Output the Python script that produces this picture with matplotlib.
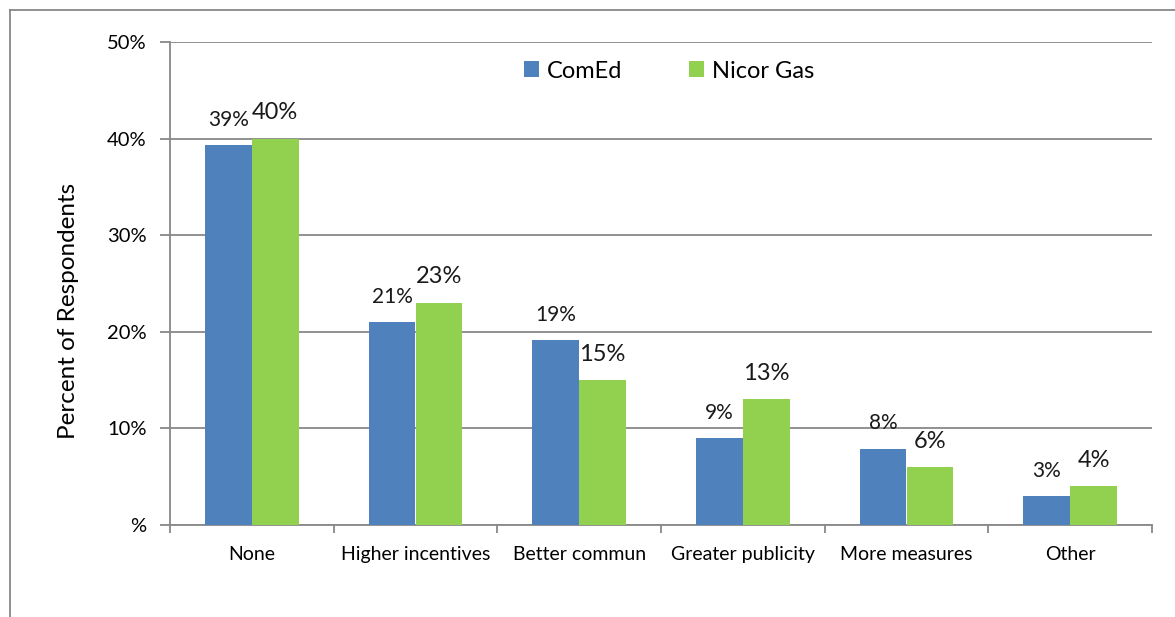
import numpy as np
import matplotlib.pyplot as plt
from matplotlib.lines import Line2D
from matplotlib.ticker import FixedLocator

plt.rcParams['font.family'] = ['Lato', 'DejaVu Sans']

categories = ['None', 'Higher incentives', 'Better commun', 'Greater publicity',
              'More measures', 'Other']
comed = [39.3, 21.0, 19.1, 9.0, 7.9, 3.0]
nicor = [40.0, 23.0, 15.0, 13.0, 6.0, 4.0]
series_names = ['ComEd', 'Nicor Gas']
ytick_vals = [0, 10, 20, 30, 40, 50]
ytick_labels = ['%', '10%', '20%', '30%', '40%', '50%']

blue = '#4F81BD'
green = '#92D050'
gray = '#888888'

fig = plt.figure(figsize=(11.75, 6.17), dpi=100)
ax = fig.add_axes([170 / 1175, 92 / 617, 982 / 1175, 483 / 617])

x = np.arange(len(categories))
w = 0.287
b1 = ax.bar(x - w / 2, comed, w, color=blue, label=series_names[0], zorder=3)
b2 = ax.bar(x + w / 2, nicor, w, color=green, label=series_names[1], zorder=3)

# value labels above each bar
for rect, v in zip(b1, comed):
    ax.annotate('%.0f%%' % v, (rect.get_x() + rect.get_width() / 2, v),
                xytext=(0, 14), textcoords='offset points',
                ha='center', va='baseline', fontsize=15, color='#1a1a1a')
for rect, v in zip(b2, nicor):
    ax.annotate('%.0f%%' % v, (rect.get_x() + rect.get_width() / 2, v),
                xytext=(0, 14), textcoords='offset points',
                ha='center', va='baseline', fontsize=17, color='#1a1a1a')

ax.set_xlim(-0.5, len(categories) - 0.5)
ax.set_ylim(0, 50)
ax.set_yticks(ytick_vals)
ax.set_yticklabels(ytick_labels, fontsize=14.5)
ax.set_xticks(x)
ax.set_xticklabels(categories, fontsize=14)
ax.xaxis.set_minor_locator(FixedLocator(np.arange(len(categories) + 1) - 0.5))
ax.tick_params(axis='x', which='major', length=0, pad=15)
ax.tick_params(axis='x', which='minor', length=6, color=gray, width=1.3)
ax.tick_params(axis='y', length=7, color=gray, width=1.3, pad=10)

ax.yaxis.grid(True, color=gray, linewidth=1.3, zorder=0)
for s in ['top', 'right']:
    ax.spines[s].set_visible(False)
for s in ['left', 'bottom']:
    ax.spines[s].set_color(gray)
    ax.spines[s].set_linewidth(1.3)

ax.set_ylabel('Percent of Respondents', fontsize=17.5)
ax.yaxis.set_label_coords(-0.093, 0.443)

leg = ax.legend(loc='center', bbox_to_anchor=(669 / 1175, 1 - 71 / 617),
                bbox_transform=fig.transFigure, ncol=2, frameon=False,
                fontsize=17, handlelength=0.65, handleheight=0.65,
                handletextpad=0.35, columnspacing=2.8)

# outer chart border
fig.add_artist(Line2D([10 / 1175, 10 / 1175], [0, 1 - 10 / 617],
                      transform=fig.transFigure, color=gray, linewidth=1.3))
fig.add_artist(Line2D([10 / 1175, 1], [1 - 10 / 617, 1 - 10 / 617],
                      transform=fig.transFigure, color=gray, linewidth=1.3))

fig.savefig('out.png', dpi=100)
